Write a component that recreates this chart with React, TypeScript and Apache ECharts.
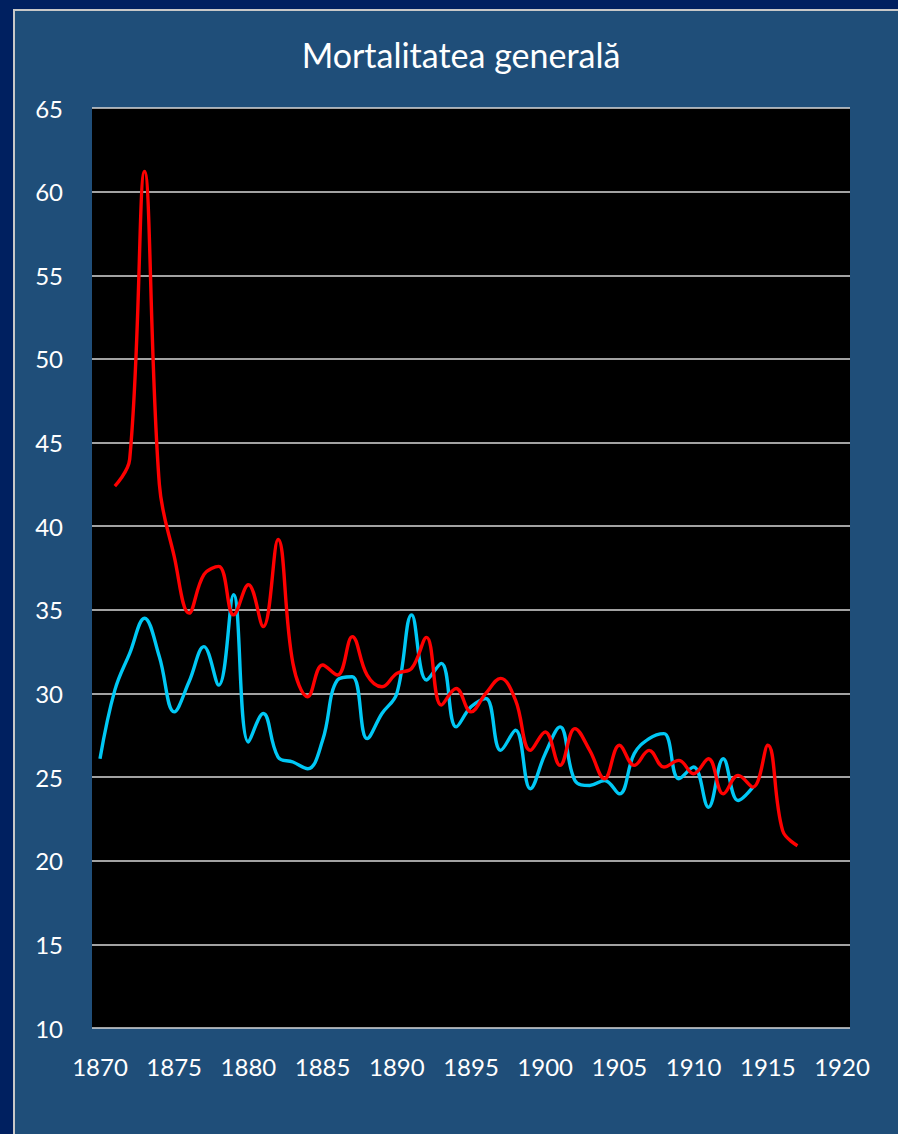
import React, { useEffect, useRef } from "react";
import * as echarts from "echarts";

const TITLE = "Mortalitatea generală";

const cyanYears = [
  1870, 1871, 1872, 1873, 1874, 1875, 1876, 1877, 1878, 1879,
  1880, 1881, 1882, 1883, 1884, 1885, 1886, 1887, 1888, 1889,
  1890, 1891, 1892, 1893, 1894, 1895, 1896, 1897, 1898, 1899,
  1900, 1901, 1902, 1903, 1904, 1905, 1906, 1907, 1908, 1909,
  1910, 1911, 1912, 1913, 1914,
];
const cyanValues = [
  26.1, 30.2, 32.4, 34.5, 32.2, 28.9, 30.7, 32.8, 30.5, 35.9,
  27.1, 28.8, 26.2, 25.9, 25.5, 27.2, 30.8, 31.0, 27.3, 28.8,
  30.0, 34.7, 30.8, 31.8, 28.0, 29.2, 29.7, 26.6, 27.8, 24.3,
  26.4, 28.0, 24.8, 24.5, 24.8, 24.0, 26.4, 27.3, 27.6, 24.9,
  25.6, 23.2, 26.1, 23.6, 24.4,
];

const redYears = [
  1871, 1872, 1873, 1874, 1875, 1876, 1877, 1878, 1879,
  1880, 1881, 1882, 1883, 1884, 1885, 1886, 1887, 1888, 1889,
  1890, 1891, 1892, 1893, 1894, 1895, 1896, 1897, 1898, 1899,
  1900, 1901, 1902, 1903, 1904, 1905, 1906, 1907, 1908, 1909,
  1910, 1911, 1912, 1913, 1914, 1915, 1916, 1917,
];
const redValues = [
  42.4, 44.0, 61.2, 42.5, 38.2, 34.8, 37.1, 37.6, 34.7,
  36.5, 34.0, 39.2, 31.8, 29.8, 31.7, 31.1, 33.4, 31.1, 30.4,
  31.2, 31.5, 33.35, 29.3, 30.3, 28.9, 30.0, 30.9, 29.6, 26.6,
  27.7, 25.7, 27.9, 26.6, 24.9, 26.9, 25.7, 26.6, 25.6, 26.0,
  25.2, 26.1, 24.0, 25.1, 24.4, 26.9, 21.8, 20.9,
];

const yMin = 10;
const yMax = 65;
const yStep = 5;
const xMin = 1870;
const xMax = 1920;
const xStep = 5;

export default function App() {
  const ref = useRef<HTMLDivElement>(null);

  useEffect(() => {
    document.body.style.margin = "0";
    if (!ref.current) return;
    const chart = echarts.init(ref.current, undefined, { renderer: "svg" });
    const font = "Lato, 'Open Sans', sans-serif";
    chart.setOption({
      animation: false,
      backgroundColor: "transparent",
      graphic: [
        {
          type: "text",
          x: 461,
          y: 54,
          style: {
            text: TITLE,
            fill: "#ffffff",
            font: `34px ${font}`,
            textAlign: "center",
            textVerticalAlign: "middle",
          },
        },
      ],
      grid: [
        {
          left: 92,
          right: 48,
          top: 108,
          height: 920,
          show: true,
          backgroundColor: "#000000",
          borderWidth: 0,
        },
        {
          left: 100,
          width: 742,
          top: 108,
          height: 920,
          show: false,
        },
      ],
      xAxis: [
        {
          type: "value",
          gridIndex: 0,
          min: 0,
          max: 1,
          show: false,
        },
        {
          type: "value",
          gridIndex: 1,
          min: xMin,
          max: xMax,
          interval: xStep,
          axisLine: { show: false },
          axisTick: { show: false },
          splitLine: { show: false },
          axisLabel: {
            color: "#ffffff",
            fontSize: 24,
            fontFamily: font,
            margin: 26,
            formatter: (v: number) => String(v),
          },
        },
      ],
      yAxis: [
        {
          type: "value",
          gridIndex: 0,
          min: yMin,
          max: yMax,
          interval: yStep,
          axisLine: { show: false },
          axisTick: { show: false },
          splitLine: { show: true, lineStyle: { color: "#d9d9d9", width: 1.5 } },
          axisLabel: {
            color: "#ffffff",
            fontSize: 24,
            fontFamily: font,
            margin: 29,
          },
        },
        {
          type: "value",
          gridIndex: 1,
          min: yMin,
          max: yMax,
          show: false,
        },
      ],
      series: [
        {
          name: "cyan",
          type: "line",
          xAxisIndex: 1,
          yAxisIndex: 1,
          data: cyanYears.map((y, i) => [y, cyanValues[i]]),
          smooth: 0.4,
          showSymbol: false,
          symbol: "none",
          lineStyle: { color: "#00c8f5", width: 3.4 },
          z: 3,
        },
        {
          name: "red",
          type: "line",
          xAxisIndex: 1,
          yAxisIndex: 1,
          data: redYears.map((y, i) => [y, redValues[i]]),
          smooth: 0.4,
          showSymbol: false,
          symbol: "none",
          lineStyle: { color: "#ff0000", width: 3.4 },
          z: 4,
        },
      ],
    });
    return () => chart.dispose();
  }, []);

  return (
    <div
      style={{
        position: "relative",
        width: 898,
        height: 1134,
        background: "#002060",
        overflow: "hidden",
      }}
    >
      <div
        style={{
          position: "absolute",
          left: 13,
          top: 9,
          width: 900,
          height: 1200,
          background: "#1f4e79",
          borderLeft: "2px solid #c8c8c8",
          borderTop: "2px solid #c8c8c8",
        }}
      />
      <div
        ref={ref}
        style={{ position: "absolute", left: 0, top: 0, width: 898, height: 1134 }}
      />
    </div>
  );
}
